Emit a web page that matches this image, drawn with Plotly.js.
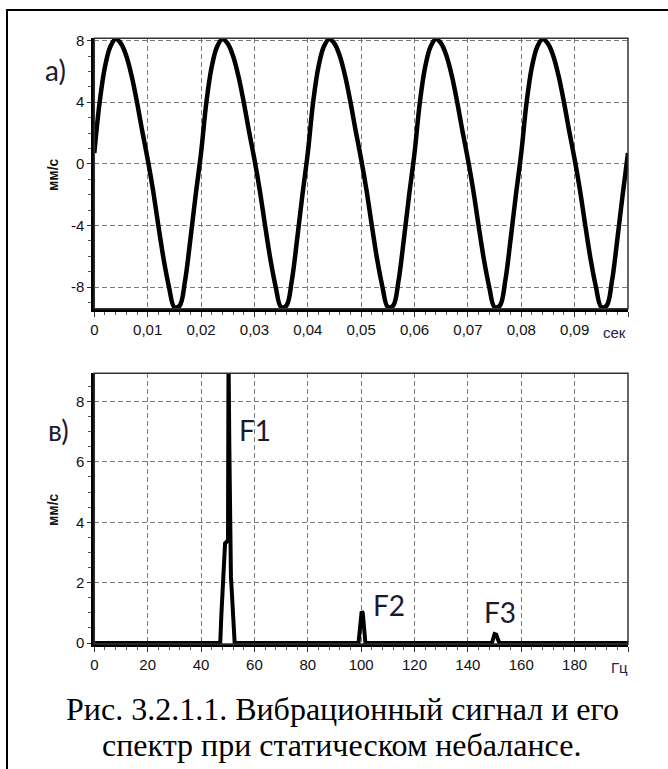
<!DOCTYPE html>
<html>
<head>
<meta charset="utf-8">
<script src="https://cdn.plot.ly/plotly-3.0.1.min.js"></script>
<style>html,body{margin:0;padding:0;background:#fff;}#chart{width:668px;height:769px;}</style>
</head>
<body>
<div id="chart"></div>
<script>
// ---- Data ----
// a) vibration signal, mm/s, sampled every 1 ms
const timeSec = [0,0.001,0.002,0.003,0.004,0.005,0.006,0.007,0.008,0.009,
  0.010,0.011,0.012,0.013,0.014,0.015,0.016,0.017,0.018,0.019,
  0.020,0.021,0.022,0.023,0.024,0.025,0.026,0.027,0.028,0.029,
  0.030,0.031,0.032,0.033,0.034,0.035,0.036,0.037,0.038,0.039,
  0.040,0.041,0.042,0.043,0.044,0.045,0.046,0.047,0.048,0.049,
  0.050,0.051,0.052,0.053,0.054,0.055,0.056,0.057,0.058,0.059,
  0.060,0.061,0.062,0.063,0.064,0.065,0.066,0.067,0.068,0.069,
  0.070,0.071,0.072,0.073,0.074,0.075,0.076,0.077,0.078,0.079,
  0.080,0.081,0.082,0.083,0.084,0.085,0.086,0.087,0.088,0.089,
  0.090,0.091,0.092,0.093,0.094,0.095,0.096,0.097,0.098,0.099,0.100];
const signalMmS = [0.7,4.0,6.3,7.6,8.1,7.8,7.0,5.7,4.0,2.1,
  0.3,-1.7,-4.0,-6.2,-8.0,-9.3,-9.2,-7.6,-4.9,-2.0,
  0.7,4.0,6.3,7.6,8.1,7.8,7.0,5.7,4.0,2.1,
  0.3,-1.7,-4.0,-6.2,-8.0,-9.3,-9.2,-7.6,-4.9,-2.0,
  0.7,4.0,6.3,7.6,8.1,7.8,7.0,5.7,4.0,2.1,
  0.3,-1.7,-4.0,-6.2,-8.0,-9.3,-9.2,-7.6,-4.9,-2.0,
  0.7,4.0,6.3,7.6,8.1,7.8,7.0,5.7,4.0,2.1,
  0.3,-1.7,-4.0,-6.2,-8.0,-9.3,-9.2,-7.6,-4.9,-2.0,
  0.7,4.0,6.3,7.6,8.1,7.8,7.0,5.7,4.0,2.1,
  0.3,-1.7,-4.0,-6.2,-8.0,-9.3,-9.2,-7.6,-4.9,-2.0,0.7];

// b) spectrum, mm/s vs Hz
const freqHz = [0,47.2,47.6,48.0,48.5,49.0,50.1,50.2,50.3,50.6,50.8,51.2,51.6,52.0,52.6,
  99.0,99.6,100.2,100.6,101.0,101.6,
  149.0,150.0,150.6,151.8,200];
const ampMmS = [0,0,0.9,1.6,2.2,3.3,3.4,9.6,9.6,6.5,3.3,2.2,1.6,0.9,0,
  0,0.5,1.05,1.0,0.4,0,
  0,0.3,0.28,0,0];

// tick labels
const timeTicks = [0,0.01,0.02,0.03,0.04,0.05,0.06,0.07,0.08,0.09,0.1];
const timeTickText = ['0','0,01','0,02','0,03','0,04','0,05','0,06','0,07','0,08','0,09',''];
const sigYTicks = [-8,-4,0,4,8];
const sigYTickText = ['-8','-4','0','4','8'];
const freqTicks = [0,20,40,60,80,100,120,140,160,180,200];
const freqTickText = ['0','20','40','60','80','100','120','140','160','180',''];
const specYTicks = [0,2,4,6,8];
const specYTickText = ['0','2','4','6','8'];

// peak labels
const peakLabels = ['F1','F2','F3'];

// ---- Layout ----
const W = 668, H = 769;
const px = v => v / W;
const py = v => 1 - v / H;

const tickFont = {family: 'Liberation Sans, Arial, sans-serif', size: 15, color: '#111'};
const gridStyle = {showgrid: true, gridcolor: '#7a7a7a', gridwidth: 1, griddash: '5px,3px'};

const xCommon = Object.assign({
  ticks: 'outside', ticklen: 5, tickwidth: 1, tickcolor: '#333',
  showline: true, linewidth: 3, linecolor: '#000',
  zeroline: false, tickfont: tickFont, fixedrange: true
}, gridStyle);
const yCommon = Object.assign({
  ticks: 'outside', ticklen: 4, tickwidth: 1, tickcolor: '#333',
  showline: true, linewidth: 3, linecolor: '#000',
  zeroline: false, tickfont: tickFont, fixedrange: true
}, gridStyle);

const layout = {
  width: W, height: H,
  margin: {l: 0, r: 0, t: 0, b: 0},
  paper_bgcolor: '#fff', plot_bgcolor: '#fff',
  showlegend: false,
  xaxis: Object.assign({}, xCommon, {
    domain: [px(94.3), px(628)], range: [0, 0.1], anchor: 'y',
    tickmode: 'array', tickvals: timeTicks, ticktext: timeTickText,
    minor: {dtick: 0.002, tick0: 0, ticks: 'outside', ticklen: 3, tickcolor: '#555', showgrid: false}
  }),
  yaxis: Object.assign({}, yCommon, {
    domain: [py(308.7), py(38.3)], range: [-9.4, 8.15], anchor: 'x',
    tickmode: 'array', tickvals: sigYTicks, ticktext: sigYTickText,
    minor: {dtick: 1, tick0: 0, ticks: 'outside', ticklen: 3, tickcolor: '#555', showgrid: false}
  }),
  xaxis2: Object.assign({}, xCommon, {
    domain: [px(94.3), px(628)], range: [0, 200], anchor: 'y2',
    tickmode: 'array', tickvals: freqTicks, ticktext: freqTickText,
    minor: {dtick: 4, tick0: 0, ticks: 'outside', ticklen: 3, tickcolor: '#555', showgrid: false}
  }),
  yaxis2: Object.assign({}, yCommon, {
    domain: [py(644), py(373.3)], range: [-0.03, 8.93], anchor: 'x2',
    tickmode: 'array', tickvals: specYTicks, ticktext: specYTickText,
    minor: {dtick: 0.5, tick0: 0, ticks: 'outside', ticklen: 3, tickcolor: '#555', showgrid: false}
  }),
  shapes: [
    {type: 'rect', xref: 'x domain', yref: 'y domain', x0: 0, x1: 1, y0: 0, y1: 1,
     line: {color: '#333', width: 1.5}, layer: 'above'},
    {type: 'rect', xref: 'x2 domain', yref: 'y2 domain', x0: 0, x1: 1, y0: 0, y1: 1,
     line: {color: '#333', width: 1.5}, layer: 'above'},
    {type: 'line', xref: 'paper', yref: 'paper', x0: px(6), x1: 1, y0: py(10), y1: py(10),
     line: {color: '#000', width: 2}},
    {type: 'line', xref: 'paper', yref: 'paper', x0: px(7), x1: px(7), y0: py(10), y1: 0,
     line: {color: '#000', width: 2}}
  ],
  annotations: [
    {text: 'а)', xref: 'paper', yref: 'paper', x: px(55), y: py(70), xanchor: 'center', yanchor: 'middle',
     showarrow: false, font: {family: 'Lato, Open Sans, sans-serif', size: 28, color: '#1a1a2e'}},
    {text: 'в)', xref: 'paper', yref: 'paper', x: px(58), y: py(430), xanchor: 'center', yanchor: 'middle',
     showarrow: false, font: {family: 'Lato, Open Sans, sans-serif', size: 28, color: '#1a1a2e'}},
    {text: peakLabels[0], xref: 'paper', yref: 'paper', x: px(237), y: py(430), xanchor: 'left', yanchor: 'middle',
     showarrow: false, font: {family: 'Lato, Open Sans, sans-serif', size: 28, color: '#1a1a2e'}},
    {text: peakLabels[1], xref: 'paper', yref: 'paper', x: px(371), y: py(605), xanchor: 'left', yanchor: 'middle',
     showarrow: false, font: {family: 'Lato, Open Sans, sans-serif', size: 28, color: '#1a1a2e'}},
    {text: peakLabels[2], xref: 'paper', yref: 'paper', x: px(482), y: py(612), xanchor: 'left', yanchor: 'middle',
     showarrow: false, font: {family: 'Lato, Open Sans, sans-serif', size: 28, color: '#1a1a2e'}},
    {text: 'мм/с', xref: 'paper', yref: 'paper', x: px(53), y: py(175), textangle: -90,
     xanchor: 'center', yanchor: 'middle', showarrow: false,
     font: {family: 'Liberation Sans, Arial, sans-serif', size: 14, color: '#111', weight: 'bold'}},
    {text: 'мм/с', xref: 'paper', yref: 'paper', x: px(53), y: py(510), textangle: -90,
     xanchor: 'center', yanchor: 'middle', showarrow: false,
     font: {family: 'Liberation Sans, Arial, sans-serif', size: 14, color: '#111', weight: 'bold'}},
    {text: 'сек', xref: 'paper', yref: 'paper', x: px(628), y: py(332), xanchor: 'right', yanchor: 'middle',
     showarrow: false, font: {family: 'Liberation Sans, Arial, sans-serif', size: 15, color: '#22224a'}},
    {text: 'Гц', xref: 'paper', yref: 'paper', x: px(630), y: py(667), xanchor: 'right', yanchor: 'middle',
     showarrow: false, font: {family: 'Liberation Sans, Arial, sans-serif', size: 15, color: '#22224a'}},
    {text: 'Рис. 3.2.1.1. Вибрационный сигнал и его', xref: 'paper', yref: 'paper', x: px(342), y: py(709),
     xanchor: 'center', yanchor: 'middle', showarrow: false,
     font: {family: 'Liberation Serif, Times New Roman, serif', size: 32, color: '#000'}},
    {text: 'спектр при статическом небалансе.', xref: 'paper', yref: 'paper', x: px(341), y: py(745),
     xanchor: 'center', yanchor: 'middle', showarrow: false,
     font: {family: 'Liberation Serif, Times New Roman, serif', size: 32, color: '#000'}}
  ]
};

const traces = [
  {x: timeSec, y: signalMmS, xaxis: 'x', yaxis: 'y', type: 'scatter', mode: 'lines',
   line: {color: '#000', width: 4.5, shape: 'spline', smoothing: 1}, hoverinfo: 'skip'},
  {x: freqHz, y: ampMmS, xaxis: 'x2', yaxis: 'y2', type: 'scatter', mode: 'lines',
   line: {color: '#000', width: 4}, hoverinfo: 'skip'}
];

Plotly.newPlot('chart', traces, layout, {staticPlot: true, displayModeBar: false});
</script>
</body>
</html>
